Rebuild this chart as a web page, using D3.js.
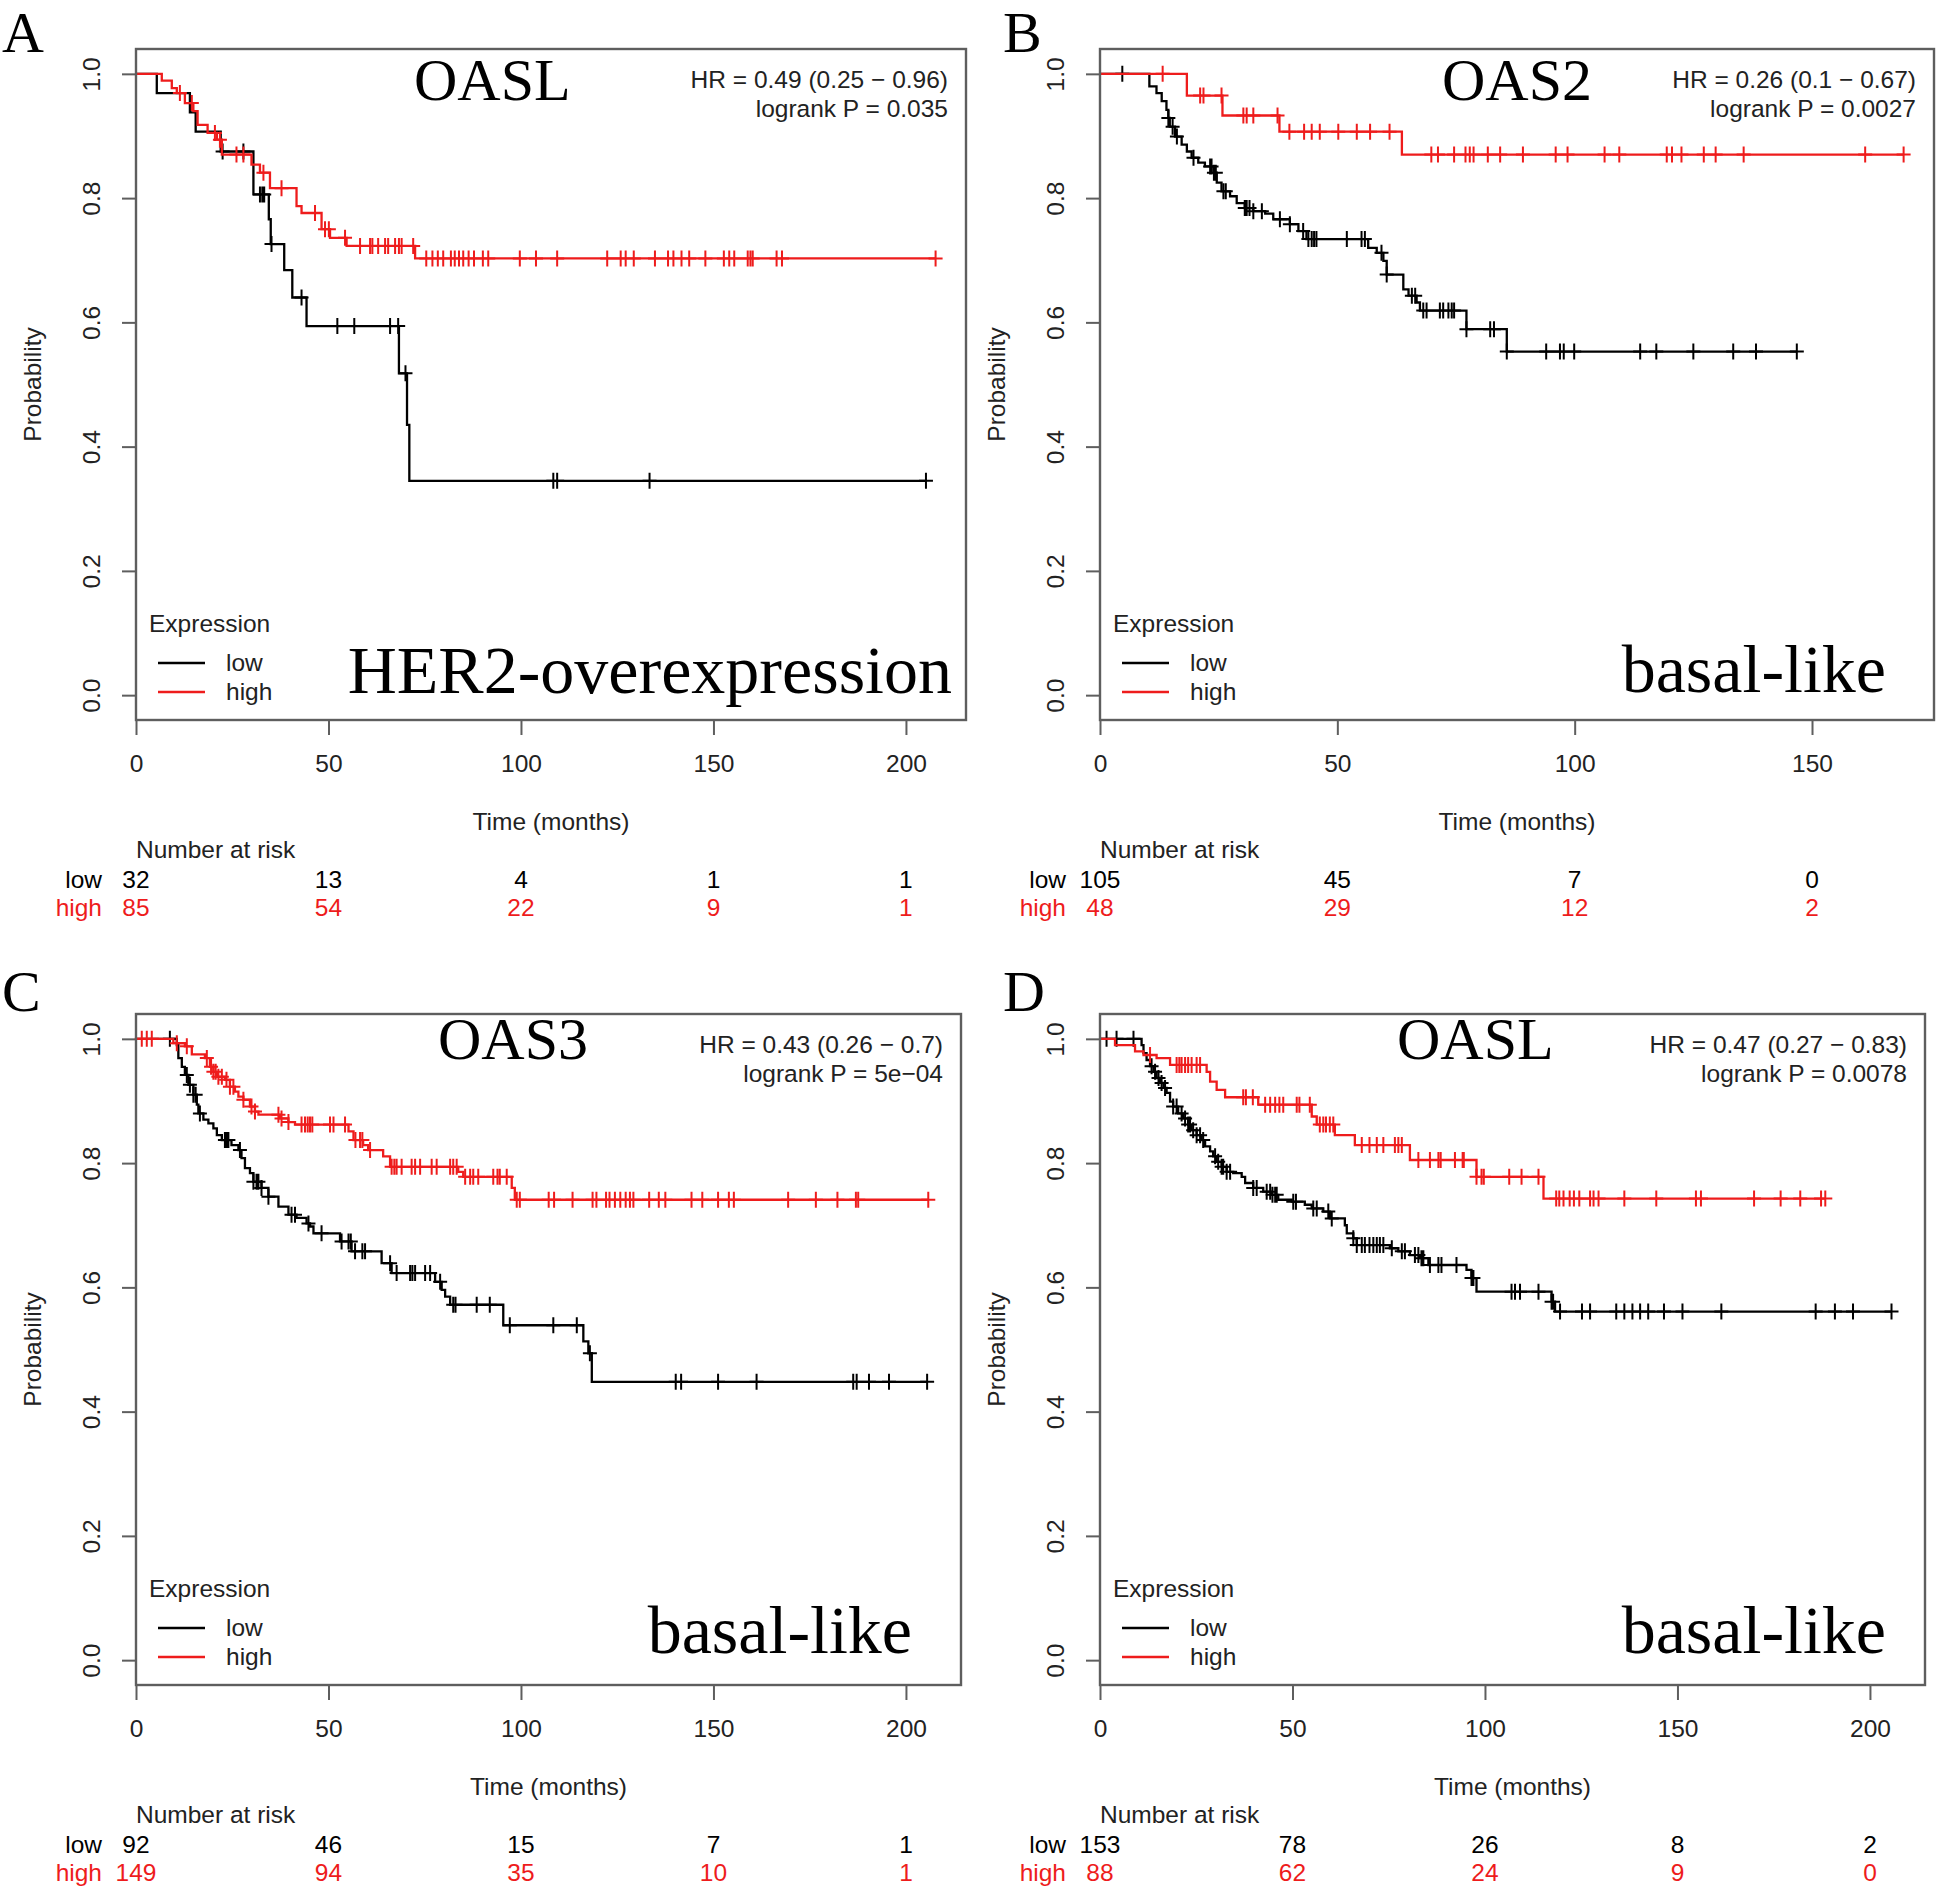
<!DOCTYPE html>
<html lang="en">
<head>
<meta charset="UTF-8">
<title>Kaplan-Meier curves: OASL, OAS2, OAS3</title>
<script src="https://d3js.org/d3.v7.min.js"></script>
<style>
  body { margin: 0; background: #fff; }
  svg { display: block; }
  .sans { font-family: "Liberation Sans", Arial, sans-serif; font-size: 24.5px; fill: #222; }
  .serif { font-family: "Liberation Serif", "Times New Roman", serif; fill: #000; }
</style>
</head>
<body>
<svg id="chart" width="1946" height="1889"></svg>
<script>
// ---- data ----
// steps: [time (months), survival after the drop]; censor: times of censored cases
const timeTicks = [0, 50, 100, 150, 200];
const timeTicksB = [0, 50, 100, 150];
const probTicks = [0, 0.2, 0.4, 0.6, 0.8, 1.0];

// A: OASL, HER2-overexpression
const aLowSteps = [[5.4,0.969],[14,0.938],[15.5,0.907],[22,0.875],[30.5,0.806],[34.5,0.766],[35,0.726],
  [38.5,0.684],[40.6,0.64],[44.3,0.594],[68.3,0.518],[70.4,0.435],[71,0.345]];
const aLowCensor = [22.5, 27.9, 32.2, 32.8, 33.3, 35.2, 43, 52.3, 56.7, 66, 68.1, 70, 108.4, 109.4, 133.4, 205.2];
const aHighSteps = [[6.7,0.989],[9.3,0.977],[10.6,0.969],[12.7,0.953],[14.9,0.94],[16,0.918],[18.6,0.905],
  [21,0.894],[22.3,0.870],[30,0.854],[32.2,0.841],[34.8,0.816],[41.7,0.787],[43,0.776],[48.2,0.750],
  [50.4,0.736],[54.7,0.723],[72.5,0.703]];
const aHighCensor = [11.4, 14.5, 20.5, 21.8, 26.1, 27.9, 33.1, 37.8, 46.5, 49.1, 50.1, 54.3, 58.2, 60.8, 61.4,
  62.9, 64.7, 65.5, 67.3, 68.3, 69, 72, 75.4, 77, 78.4, 79.8, 81.8, 82.8, 83.9, 85, 86.4, 87.8, 90.1, 91.5,
  99.7, 103.9, 109.4, 122.4, 125.9, 127.2, 129.3, 134.8, 138.2, 139.6, 141.7, 143.7, 147.9, 152.7, 154.1,
  155.4, 158.9, 159.6, 160.2, 166.4, 167.8, 207.7];
const aRiskLow = [32, 13, 4, 1, 1];
const aRiskHigh = [85, 54, 22, 9, 1];

// B: OAS2, basal-like
const bLowSteps = [[10.4,0.980],[11.9,0.969],[13,0.956],[14,0.942],[14.4,0.929],[14.7,0.915],[15.8,0.899],
  [17.2,0.886],[18.3,0.875],[19.3,0.865],[20.7,0.857],[22.1,0.851],[23.9,0.841],[24.6,0.825],[25.6,0.811],
  [27.4,0.803],[28.8,0.792],[30.5,0.784],[32.3,0.779],[34.8,0.775],[36.5,0.766],[40,0.758],[41.8,0.747],
  [43.5,0.734],[56.5,0.720],[58.3,0.712],[59.7,0.699],[60.4,0.677],[63.9,0.653],[65,0.643],[66.7,0.632],
  [67.4,0.619],[77.2,0.589],[85.7,0.553]];
const bLowCensor = [4.7, 14.4, 15.3, 16.2, 19.7, 23.2, 23.5, 24, 24.4, 26, 26.5, 30.5, 30.9, 31.5, 32.3, 34.1,
  37.9, 40, 42.8, 43.9, 44.6, 45.1, 45.6, 52, 55.1, 55.8, 59.3, 60.4, 65.7, 66.4, 68.1, 68.8, 71.6, 72.3,
  73.4, 74.1, 74.6, 77.2, 82.2, 83, 85.7, 94, 96.9, 97.7, 99.9, 113.8, 117.2, 125, 133.4, 138.2, 146.8];
const bHighSteps = [[18.3,0.965],[25.8,0.933],[37.8,0.907],[63.6,0.870]];
const bHighCensor = [13.2, 21.1, 21.8, 25.6, 30.2, 30.9, 32.3, 37.4, 39.9, 43, 44.6, 46.3, 50.2, 54.1, 56.9,
  61, 69.8, 71.2, 74.6, 77, 77.9, 78.7, 81.7, 84.3, 89.1, 96, 98.5, 106.3, 109.4, 119.4, 120.5, 122.5, 127.2,
  129.7, 135.6, 161.2, 169.3];
const bRiskLow = [105, 45, 7, 0];
const bRiskHigh = [48, 29, 12, 2];

// C: OAS3, basal-like
const cLowSteps = [[10.6,0.990],[11,0.969],[11.9,0.955],[12.7,0.942],[13.6,0.926],[14.9,0.910],[15.8,0.894],
  [16.2,0.880],[17.5,0.870],[18.8,0.864],[20.1,0.856],[21,0.845],[22.3,0.837],[24.8,0.829],[26.6,0.821],
  [27.4,0.808],[28.3,0.792],[29.6,0.784],[30.5,0.770],[32.6,0.760],[34.4,0.746],[37,0.730],[39.6,0.717],
  [41.7,0.712],[44.3,0.703],[45.2,0.698],[46.1,0.687],[53,0.674],[56,0.658],[63.8,0.639],[66.4,0.623],
  [77.7,0.609],[79.4,0.596],[80.3,0.585],[81.6,0.572],[95.4,0.539],[116.2,0.513],[117.5,0.494],[118.4,0.448]];
const cLowCensor = [8.8, 13.2, 14, 14.9, 15.5, 16.6, 23.1, 23.5, 24, 27, 30.5, 31.3, 31.8, 32.6, 34.4, 40.4,
  41.3, 44.8, 48.2, 53.4, 55.2, 55.8, 56.9, 58.8, 59.5, 66, 67.7, 71.2, 71.8, 72.5, 75.1, 76.4, 79, 82.4, 83,
  88.5, 91.9, 97.1, 108.4, 114.5, 117.9, 140.2, 141.6, 151.2, 161.2, 186.3, 187.2, 190.4, 195.6, 205.5];
const cHighSteps = [[9.7,0.993],[12.7,0.988],[14.5,0.975],[17.9,0.969],[19.2,0.955],[20.1,0.947],[21,0.939],
  [23.1,0.934],[24.4,0.923],[25.7,0.915],[26.6,0.907],[27.9,0.902],[29.6,0.891],[30.9,0.883],[31.8,0.878],
  [37.4,0.872],[39.6,0.866],[41.3,0.862],[55.2,0.851],[56.5,0.837],[59,0.829],[60.3,0.821],[64.2,0.811],
  [66,0.794],[83.7,0.786],[85,0.778],[97.6,0.760],[98.4,0.741]];
const cHighCensor = [1.5, 2.8, 4.1, 10.6, 13.2, 18.4, 19.5, 20.1, 20.7, 21.4, 22.3, 23.5, 24.4, 25.3, 27.9, 30,
  30.9, 37, 37.8, 39.6, 43, 43.9, 44.6, 45.2, 45.8, 50.4, 51.3, 54.3, 57, 58.2, 58.8, 60.8, 66.4, 67.1, 67.7,
  69, 71.6, 72.5, 73.8, 76.8, 78.1, 81.6, 82.4, 83.3, 85.5, 86.8, 87.6, 88.9, 92.8, 93.9, 94.5, 96.3, 98.9,
  99.7, 107.2, 108.6, 113.4, 118.6, 119.6, 122.1, 123, 124.4, 125.8, 127.2, 128.3, 129.2, 133.3, 135.8, 137.5,
  144.3, 147.1, 151.2, 154, 155.3, 169.4, 176.6, 182.2, 187, 187.6, 205.8];
const cRiskLow = [92, 46, 15, 7, 1];
const cRiskHigh = [149, 94, 35, 10, 1];

// D: OASL, basal-like
const dLowSteps = [[10.8,0.990],[11.3,0.977],[12.1,0.966],[13,0.956],[13.9,0.947],[14.7,0.937],[15.6,0.929],
  [16.5,0.921],[17.3,0.913],[18.2,0.899],[19,0.891],[20.3,0.880],[21.6,0.872],[22.9,0.862],[23.8,0.853],
  [25.1,0.845],[26.4,0.837],[27.3,0.827],[28.6,0.819],[29.4,0.811],[30.3,0.802],[31.6,0.794],[32.9,0.786],
  [34.6,0.784],[36.8,0.778],[37.7,0.768],[39.8,0.760],[42.4,0.754],[44.6,0.749],[46.3,0.741],[49.8,0.738],
  [53.2,0.733],[55,0.727],[58,0.722],[59.7,0.711],[63.6,0.700],[64.1,0.687],[65.8,0.679],[66.7,0.668],
  [75.3,0.663],[77.5,0.658],[80.5,0.652],[83.1,0.647],[85.3,0.636],[95.2,0.628],[96.5,0.615],[97.8,0.593],
  [117.3,0.577],[118.2,0.561]];
const dLowCensor = [1.7, 4.3, 8.7, 13.4, 14.3, 15.2, 16, 16.9, 19, 19.9, 21.2, 22.1, 22.9, 23.4, 24.2, 25.1, 26,
  26.8, 29.9, 30.7, 31.6, 32, 32.9, 33.8, 39.8, 40.7, 43.3, 44.2, 44.8, 45.5, 45.9, 50.2, 50.9, 55.4, 56.3,
  59.3, 60.2, 65.8, 66.7, 68, 68.8, 70, 71, 71.9, 72.7, 73.6, 75.8, 78.4, 79.2, 81.8, 82.7, 83.5, 84, 85.7,
  87.9, 88.7, 92.6, 96.5, 97, 106.9, 107.8, 109.1, 113.9, 117.3, 117.7, 119.5, 125.2, 127.3, 134.1, 136.2,
  138.3, 140.3, 142.4, 146.5, 151.3, 161.4, 185.9, 190.9, 195.6, 205.6];
const dHighSteps = [[3.9,0.990],[9.1,0.980],[11.3,0.974],[14.7,0.969],[18.2,0.958],[27.7,0.947],[28.6,0.931],
  [30.3,0.918],[32.5,0.906],[41.1,0.894],[55,0.875],[56.3,0.862],[61,0.845],[66.2,0.829],[80.5,0.805],
  [97.8,0.778],[115.2,0.743]];
const dHighCensor = [13, 19.9, 20.6, 21.2, 22.1, 22.9, 23.8, 25.1, 26, 37.2, 37.9, 39.7, 42.9, 44.2, 45.5, 46.6,
  47.6, 51.1, 51.8, 54.5, 57.1, 58, 58.7, 59.7, 60.6, 68, 70, 71.9, 73.6, 76.6, 77.5, 78.4, 82.7, 85.7, 87.9,
  88.5, 92.2, 94.2, 94.5, 97.8, 99.1, 99.7, 106.3, 109.5, 113.9, 118.5, 119.3, 120.4, 122, 123.1, 124.5, 127.3,
  128.2, 129.5, 136.2, 144.5, 154.8, 156.1, 169.9, 176.8, 181.9, 187.3, 188.4];
const dRiskLow = [153, 78, 26, 8, 2];
const dRiskHigh = [88, 62, 24, 9, 0];

const lowColor = "#000";
const highColor = "#ee1c1c";
const boxColor = "#5e5e5e";
const plotH = 671;

// ---- layout of the four panels ----
const panels = [
  { letter: "A", gene: "OASL", subtype: "HER2-overexpression",
    hr: "HR = 0.49 (0.25 \u2212 0.96)", pval: "logrank P = 0.035",
    low: [aLowSteps, aLowCensor], high: [aHighSteps, aHighCensor],
    ticks: timeTicks, riskLow: aRiskLow, riskHigh: aRiskHigh,
    left: 136, top: 49, width: 830, xMax: 215.6,
    letterPos: [2, 52], genePos: [414, 100], subPos: [952, 693] },
  { letter: "B", gene: "OAS2", subtype: "basal-like",
    hr: "HR = 0.26 (0.1 \u2212 0.67)", pval: "logrank P = 0.0027",
    low: [bLowSteps, bLowCensor], high: [bHighSteps, bHighCensor],
    ticks: timeTicksB, riskLow: bRiskLow, riskHigh: bRiskHigh,
    left: 1100, top: 49, width: 834, xMax: 175.7,
    letterPos: [1003, 52], genePos: [1442, 100], subPos: [1886, 692] },
  { letter: "C", gene: "OAS3", subtype: "basal-like",
    hr: "HR = 0.43 (0.26 \u2212 0.7)", pval: "logrank P = 5e\u221204",
    low: [cLowSteps, cLowCensor], high: [cHighSteps, cHighCensor],
    ticks: timeTicks, riskLow: cRiskLow, riskHigh: cRiskHigh,
    left: 136, top: 1014, width: 825, xMax: 214.3,
    letterPos: [2, 1011], genePos: [438, 1059], subPos: [912, 1653] },
  { letter: "D", gene: "OASL", subtype: "basal-like",
    hr: "HR = 0.47 (0.27 \u2212 0.83)", pval: "logrank P = 0.0078",
    low: [dLowSteps, dLowCensor], high: [dHighSteps, dHighCensor],
    ticks: timeTicks, riskLow: dRiskLow, riskHigh: dRiskHigh,
    left: 1100, top: 1014, width: 825, xMax: 214.3,
    letterPos: [1003, 1011], genePos: [1397, 1059], subPos: [1886, 1653] }
];

const svg = d3.select("#chart");

function survAt(steps, t) {
  let s = 1;
  for (const [ts, v] of steps) {
    if (ts <= t) s = v; else break;
  }
  return s;
}

function drawCurve(g, x, y, steps, censor, color) {
  const tEnd = Math.max(steps[steps.length - 1][0], d3.max(censor));
  const pts = [[0, 1], ...steps, [tEnd, steps[steps.length - 1][1]]];
  const line = d3.line().x(d => x(d[0])).y(d => y(d[1])).curve(d3.curveStepAfter);

  g.append("path")
    .attr("d", line(pts))
    .attr("fill", "none")
    .attr("stroke", color)
    .attr("stroke-width", 2.3);

  // censor marks "+"
  g.append("path")
    .attr("d", censor.map(t => {
      const cx = x(t), cy = y(survAt(steps, t));
      return `M${cx - 7},${cy}H${cx + 7}M${cx},${cy - 8}V${cy + 8}`;
    }).join(""))
    .attr("fill", "none")
    .attr("stroke", color)
    .attr("stroke-width", 2);
}

function drawPanel(pn) {
  const g = svg.append("g");
  const x = d3.scaleLinear().domain([0, pn.xMax]).range([pn.left, pn.left + pn.width]);
  const y = d3.scaleLinear().domain([-0.04, 1.04]).range([pn.top + plotH, pn.top]);
  const bottom = pn.top + plotH;

  // x axis
  const xAxis = d3.axisBottom(x).tickValues(pn.ticks).tickSize(15).tickPadding(20).tickFormat(d3.format("d"));
  const gx = g.append("g").attr("transform", `translate(0,${bottom})`).call(xAxis);
  gx.select(".domain").remove();
  gx.selectAll("line").attr("stroke", boxColor).attr("stroke-width", 2);
  gx.selectAll("text").attr("class", "sans").attr("fill", "#222");

  // y axis, labels parallel to the axis
  const yAxis = d3.axisLeft(y).tickValues(probTicks).tickSize(14).tickFormat(d3.format(".1f"));
  const gy = g.append("g").attr("transform", `translate(${pn.left},0)`).call(yAxis);
  gy.select(".domain").remove();
  gy.selectAll("line").attr("stroke", boxColor).attr("stroke-width", 2);
  gy.selectAll("text")
    .attr("class", "sans")
    .attr("fill", "#222")
    .attr("x", 0).attr("dy", null)
    .attr("text-anchor", "middle")
    .attr("transform", "translate(-36,0) rotate(-90)");
  gx.attr("font-family", null).attr("font-size", null);
  gy.attr("font-family", null).attr("font-size", null);

  // curves
  drawCurve(g, x, y, pn.low[0], pn.low[1], lowColor);
  drawCurve(g, x, y, pn.high[0], pn.high[1], highColor);

  // frame
  g.append("rect")
    .attr("x", pn.left).attr("y", pn.top)
    .attr("width", pn.width).attr("height", plotH)
    .attr("fill", "none").attr("stroke", boxColor).attr("stroke-width", 2.4);

  // axis titles
  g.append("text").attr("class", "sans")
    .attr("x", pn.left + pn.width / 2).attr("y", pn.top + 781)
    .attr("text-anchor", "middle").text("Time (months)");
  g.append("text").attr("class", "sans")
    .attr("transform", `translate(${pn.left - 95},${pn.top + plotH / 2}) rotate(-90)`)
    .attr("text-anchor", "middle").text("Probability");

  // HR and logrank
  g.append("text").attr("class", "sans")
    .attr("x", pn.left + pn.width - 18).attr("y", pn.top + 39)
    .attr("text-anchor", "end").text(pn.hr);
  g.append("text").attr("class", "sans")
    .attr("x", pn.left + pn.width - 18).attr("y", pn.top + 68)
    .attr("text-anchor", "end").text(pn.pval);

  // legend
  g.append("text").attr("class", "sans")
    .attr("x", pn.left + 13).attr("y", pn.top + 583).text("Expression");
  [["low", lowColor, 614], ["high", highColor, 643]].forEach(([lab, col, ly]) => {
    g.append("line")
      .attr("x1", pn.left + 22).attr("x2", pn.left + 69)
      .attr("y1", pn.top + ly).attr("y2", pn.top + ly)
      .attr("stroke", col).attr("stroke-width", 2.3);
    g.append("text").attr("class", "sans")
      .attr("x", pn.left + 90).attr("y", pn.top + ly + 8).text(lab);
  });

  // number at risk
  g.append("text").attr("class", "sans")
    .attr("x", pn.left).attr("y", pn.top + 809).text("Number at risk");
  [["low", pn.riskLow, lowColor, 839], ["high", pn.riskHigh, highColor, 867]].forEach(([lab, vals, col, ry]) => {
    g.append("text").attr("class", "sans")
      .attr("x", pn.left - 34).attr("y", pn.top + ry)
      .attr("text-anchor", "end").style("fill", col).text(lab);
    g.selectAll(null).data(vals).enter().append("text")
      .attr("class", "sans")
      .attr("x", (d, i) => x(pn.ticks[i])).attr("y", pn.top + ry)
      .attr("text-anchor", "middle").style("fill", col)
      .text(d => d);
  });

  // gene, subtype, panel letter
  g.append("text").attr("class", "serif")
    .attr("x", pn.genePos[0]).attr("y", pn.genePos[1])
    .attr("font-size", 60).text(pn.gene);
  g.append("text").attr("class", "serif")
    .attr("x", pn.subPos[0]).attr("y", pn.subPos[1])
    .attr("text-anchor", "end").attr("font-size", 68).text(pn.subtype);
  g.append("text").attr("class", "serif")
    .attr("x", pn.letterPos[0]).attr("y", pn.letterPos[1])
    .attr("font-size", 58).text(pn.letter);
}

panels.forEach(drawPanel);
</script>
</body>
</html>
